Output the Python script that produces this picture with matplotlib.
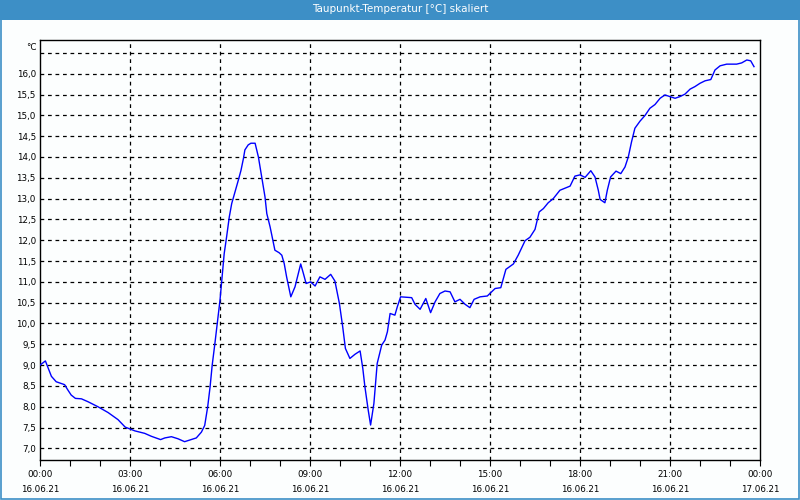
import matplotlib
matplotlib.use("Agg")
import matplotlib.pyplot as plt
from matplotlib.patches import Rectangle

title = "Taupunkt-Temperatur [°C] skaliert"
unit = "°C"

hours = [0.0, 0.18, 0.38, 0.54, 0.66, 0.82, 0.93, 1.04, 1.18, 1.38, 1.6, 1.93, 2.27, 2.6, 2.84,
         3.16, 3.49, 3.71, 4.02, 4.16, 4.38, 4.6, 4.82, 5.04, 5.21, 5.38, 5.49, 5.59, 5.67, 5.74,
         5.83, 5.92, 6.0, 6.06, 6.14, 6.22, 6.31, 6.39, 6.5, 6.61, 6.7, 6.78, 6.83, 6.94, 7.03,
         7.17, 7.28, 7.39, 7.5, 7.56, 7.67, 7.76, 7.83, 7.97, 8.06, 8.14, 8.22, 8.36, 8.5, 8.61,
         8.69, 8.78, 8.87, 9.02, 9.17, 9.33, 9.5, 9.69, 9.83, 9.98, 10.09, 10.18, 10.33, 10.5,
         10.67, 10.76, 10.83, 10.94, 11.02, 11.13, 11.24, 11.39, 11.5, 11.58, 11.67, 11.83, 11.91,
         12.02, 12.39, 12.5, 12.67, 12.86, 13.02, 13.17, 13.33, 13.5, 13.67, 13.83, 14.0, 14.17,
         14.33, 14.47, 14.67, 14.91, 15.17, 15.36, 15.53, 15.78, 15.94, 16.17, 16.33, 16.5, 16.64,
         16.78, 16.94, 17.11, 17.33, 17.5, 17.67, 17.83, 18.0, 18.17, 18.36, 18.5, 18.61, 18.67,
         18.83, 18.91, 19.02, 19.2, 19.36, 19.5, 19.61, 19.72, 19.83, 20.0, 20.17, 20.33, 20.5,
         20.67, 20.83, 21.0, 21.17, 21.33, 21.5, 21.67, 21.83, 22.0, 22.17, 22.36, 22.5, 22.67,
         22.89, 23.22, 23.39, 23.56, 23.69, 23.8]
dewpoint = [9.0, 9.1, 8.73, 8.6, 8.57, 8.53, 8.40, 8.28, 8.2, 8.19, 8.12, 8.0, 7.86, 7.69, 7.51,
            7.42, 7.36, 7.29, 7.21, 7.25, 7.28, 7.23, 7.16, 7.21, 7.25, 7.39, 7.55, 8.0, 8.48, 9.0,
            9.52, 10.08, 10.56, 11.04, 11.68, 12.08, 12.56, 12.88, 13.16, 13.44, 13.68, 13.96, 14.17,
            14.29, 14.33, 14.33, 14.0, 13.52, 13.04, 12.64, 12.32, 12.0, 11.76, 11.70, 11.64, 11.44,
            11.12, 10.64, 10.88, 11.2, 11.43, 11.2, 10.96, 11.0, 10.9, 11.12, 11.06, 11.18, 11.02,
            10.48, 9.92, 9.4, 9.16, 9.26, 9.34, 8.92, 8.48, 7.92, 7.56, 8.08, 9.04, 9.48, 9.6, 9.8,
            10.24, 10.2, 10.4, 10.64, 10.62, 10.46, 10.34, 10.6, 10.26, 10.52, 10.72, 10.78, 10.76,
            10.52, 10.58, 10.46, 10.38, 10.58, 10.64, 10.66, 10.84, 10.86, 11.3, 11.43, 11.64, 11.99,
            12.07, 12.26, 12.68, 12.76, 12.9, 13.0, 13.2, 13.25, 13.3, 13.54, 13.57, 13.51, 13.67,
            13.52, 13.2, 12.98, 12.9, 13.2, 13.52, 13.66, 13.6, 13.76, 14.0, 14.37, 14.69, 14.86,
            15.0, 15.17, 15.26, 15.41, 15.49, 15.45, 15.41, 15.45, 15.51, 15.63, 15.69, 15.77, 15.83,
            15.86, 16.09, 16.19, 16.23, 16.23, 16.26, 16.33, 16.31, 16.17]

x_major = [0, 3, 6, 9, 12, 15, 18, 21, 24]
x_labels = ["00:00\n16.06.21", "03:00\n16.06.21", "06:00\n16.06.21", "09:00\n16.06.21",
            "12:00\n16.06.21", "15:00\n16.06.21", "18:00\n16.06.21", "21:00\n16.06.21",
            "00:00\n17.06.21"]
y_ticks = [7.0, 7.5, 8.0, 8.5, 9.0, 9.5, 10.0, 10.5, 11.0, 11.5, 12.0, 12.5, 13.0, 13.5,
           14.0, 14.5, 15.0, 15.5, 16.0]
y_grid_extra = [16.5]

plt.rcParams['font.family'] = ['DejaVu Sans']

fig = plt.figure(figsize=(8, 5), dpi=100)
fig.patch.set_facecolor("#fcfefe")

# title bar
fig.patches.append(Rectangle((0, 0.96), 1, 0.04, transform=fig.transFigure,
                             facecolor="#3d8fc6", edgecolor="none", zorder=0))
# outer border
fig.patches.append(Rectangle((0.001, 0.002), 0.998, 0.996, transform=fig.transFigure,
                             facecolor="none", edgecolor="#3d8fc6", linewidth=1.2, zorder=5))
fig.text(0.5, 0.981, title, color="white", ha="center", va="center", fontsize=7.5)

ax = fig.add_axes([0.05, 0.08, 0.9, 0.84])
ax.set_facecolor("#fcfefe")
ax.set_xlim(0, 24)
ax.set_ylim(6.72, 16.81)

for v in y_ticks + y_grid_extra:
    ax.axhline(v, color="black", linestyle=(0, (3, 3)), linewidth=0.9, zorder=1)
for h in x_major[1:-1]:
    ax.axvline(h, color="black", linestyle=(0, (3, 3)), linewidth=0.9, zorder=1)

ax.plot(hours, dewpoint, color="#0000ff", linewidth=1.0, zorder=3)

ax.set_xticks(x_major)
ax.set_xticklabels(x_labels, fontsize=6.3, linespacing=1.85)
ax.set_xticks(list(range(25)), minor=True)
ax.tick_params(axis="x", which="both", direction="out", length=4, width=0.8, pad=3)
ax.set_yticks(y_ticks)
ax.set_yticklabels([f"{v:.1f}".replace(".", ",") for v in y_ticks], fontsize=6.3)
ax.tick_params(axis="y", length=0, pad=3)

for s in ax.spines.values():
    s.set_color("black")
    s.set_linewidth(1.0)

ax.text(-0.004, 0.993, unit, transform=ax.transAxes, ha="right", va="top", fontsize=6.3)

fig.savefig("out.png", dpi=100, facecolor=fig.get_facecolor())
